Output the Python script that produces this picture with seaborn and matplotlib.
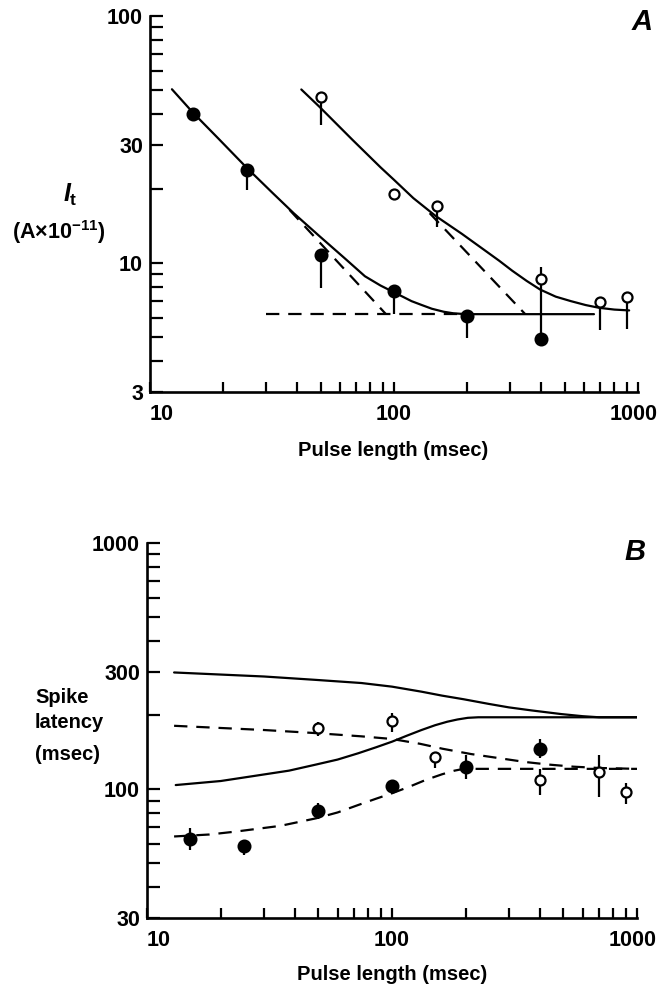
import matplotlib
matplotlib.use("Agg")
import matplotlib.pyplot as plt
from matplotlib.ticker import NullFormatter
from matplotlib.transforms import ScaledTranslation
import seaborn as sns

# ---- panel A: threshold current I_t vs pulse length ----
a_filled_x = [15, 25, 50, 100, 200, 400]
a_filled_y = [40, 23.8, 10.8, 7.7, 6.1, 4.93]
a_filled_lo = [40, 19.8, 7.9, 6.2, 4.97, 4.93]
a_filled_hi = [40, 23.8, 10.8, 7.7, 6.1, 6.4]

a_open_x = [50, 100, 150, 400, 700, 900]
a_open_y = [47, 19, 17.0, 8.6, 6.95, 7.3]
a_open_lo = [36.2, 19, 14.0, 6.4, 5.36, 5.4]
a_open_hi = [47, 19, 17.0, 9.6, 6.95, 7.3]

# fitted curves
a_fit1_x = [12.3, 15.0, 19.0, 25.0, 31.8, 38.8, 49.2, 62.4, 76.0, 88, 100, 110, 118,
            130, 143, 160, 175, 197, 660]
a_fit1_y = [50.5, 40.6, 32.0, 24.2, 19.2, 15.9, 12.9, 10.5, 8.83, 8.1, 7.6, 7.25, 7.0,
            6.75, 6.52, 6.34, 6.25, 6.2, 6.2]
a_fit2_x = [41.7, 49.7, 67.6, 88, 100, 120, 148, 190, 231, 270, 305, 350, 397, 460,
            531, 610, 692, 800, 920]
a_fit2_y = [50.4, 42.7, 31.5, 24.4, 21.7, 18.3, 15.5, 13.1, 11.4, 10.2, 9.3, 8.45, 7.8,
            7.3, 7.0, 6.75, 6.58, 6.47, 6.42]

# asymptotes (dashed)
a_asym1_x = [37.3, 92.7]
a_asym1_y = [16.4, 6.2]
a_asym2_x = [140, 345]
a_asym2_y = [15.9, 6.2]
a_rheo_x = [30, 200]
a_rheo_y = [6.2, 6.2]

# ---- panel B: spike latency vs pulse length ----
b_filled_x = [15, 25, 50, 100, 200, 400]
b_filled_y = [62.7, 58.9, 81.8, 102.6, 123.6, 146]
b_filled_lo = [56.6, 54.1, 75.4, 96.3, 110, 134]
b_filled_hi = [69.4, 62.2, 88, 109, 138, 160]

b_open_x = [50, 100, 150, 400, 700, 900]
b_open_y = [178, 190, 135, 109, 118, 97.8]
b_open_lo = [164, 170, 122, 95, 93, 87]
b_open_hi = [188, 204, 142, 121, 138, 106]

b_solid_up_x = [12.9, 30, 49, 75, 100, 132, 160, 196, 249, 300, 371, 490, 600, 700, 1000]
b_solid_up_y = [298, 287, 278, 270, 261, 249, 240, 232, 222, 215, 209, 202, 198, 196, 196]
b_solid_lo_x = [13.1, 20, 27, 38, 49, 60, 72.8, 86, 100, 115, 132, 150, 168, 185, 204,
                225, 1000]
b_solid_lo_y = [104, 108, 113, 119, 126, 132, 140, 148, 156, 165, 174, 182, 188, 192, 195,
                196, 196]
b_dash_up_x = [12.9, 30, 49, 75, 100, 130, 161, 210, 270, 350, 434, 550, 700, 1000]
b_dash_up_y = [181, 174, 169, 164, 160, 153, 146, 139, 134, 129, 126, 123.5, 122, 121]
b_dash_lo_x = [12.9, 18, 23, 35, 49, 60, 72.8, 86, 100, 118, 137, 160, 180, 196, 1000]
b_dash_lo_y = [64.3, 65.5, 67.3, 71, 76.2, 80.5, 86.3, 91.5, 96.3, 102.5, 109, 115, 119,
               121, 121]

# ticks
x_major = [10, 100, 1000]
x_minor = [20, 30, 40, 50, 60, 70, 80, 90, 200, 300, 400, 500, 600, 700, 800, 900]
a_y_major = [3, 10, 30, 100]
a_y_minor = [4, 5, 6, 7, 8, 9, 20, 40, 50, 60, 70, 80, 90]
b_y_major = [30, 100, 300, 1000]
b_y_minor = [40, 50, 60, 70, 80, 90, 200, 400, 500, 600, 700, 800, 900]

sns.set_theme(style="ticks")
plt.rcParams['font.family'] = ['Liberation Sans', 'DejaVu Sans']
plt.rcParams['font.weight'] = 'bold'
plt.rcParams['mathtext.fontset'] = 'custom'
plt.rcParams['mathtext.rm'] = 'Liberation Sans:bold'
plt.rcParams['mathtext.it'] = 'Liberation Sans:italic:bold'
plt.rcParams['mathtext.bf'] = 'Liberation Sans:bold'

W, H = 659, 989
fig = plt.figure(figsize=(W / 100, H / 100), dpi=100)

LW = 1.6
DASH = (0, (6, 4))


def px_axes(x0, x1, ytop, ybot):
    return fig.add_axes([x0 / W, 1 - ybot / H, (x1 - x0) / W, (ybot - ytop) / H])


def style_axes(ax, ymaj, ymin, ylim):
    ax.set_xscale('log')
    ax.set_yscale('log')
    ax.set_xlim(10, 1000)
    ax.set_ylim(*ylim)
    ax.set_xticks(x_major, labels=[str(v) for v in x_major])
    ax.set_xticks(x_minor, minor=True)
    ax.set_yticks(ymaj, labels=[str(v) for v in ymaj])
    ax.set_yticks(ymin, minor=True)
    ax.xaxis.set_minor_formatter(NullFormatter())
    ax.yaxis.set_minor_formatter(NullFormatter())
    ax.tick_params(axis='both', which='both', direction='in', width=LW, color='black',
                   labelsize=15.5, labelcolor='black')
    ax.tick_params(axis='y', which='both', length=9, pad=5)
    ax.tick_params(axis='x', which='both', length=7.5, pad=8.5)
    labs = ax.get_xticklabels()
    labs[0].set_ha('left')
    labs[-1].set_transform(labs[-1].get_transform()
                           + ScaledTranslation(-4 / 100, 0, fig.dpi_scale_trans))
    for s in ['left', 'bottom']:
        ax.spines[s].set_linewidth(LW + 0.3)
        ax.spines[s].set_color('black')
    sns.despine(ax=ax)
    ax.set_xlabel('')
    ax.set_ylabel('')
    ax.set_facecolor('white')


def line(ax, x, y, dashed=False):
    sns.lineplot(x=x, y=y, ax=ax, color='black', lw=LW, sort=False, estimator=None,
                 linestyle=DASH if dashed else '-', zorder=1)


def points(ax, x, y, lo, hi, filled):
    ax.vlines(x, lo, hi, color='black', lw=LW, zorder=2)
    sns.scatterplot(x=x, y=y, ax=ax, marker='o', s=72 if filled else 52,
                    color='black' if filled else 'white', edgecolor='black',
                    linewidth=1.6, zorder=3, legend=False)


# panel A
axA = px_axes(150, 638, 16, 392)
axA.set_xscale('log')
axA.set_yscale('log')
line(axA, a_fit1_x, a_fit1_y)
line(axA, a_fit2_x, a_fit2_y)
line(axA, a_asym1_x, a_asym1_y, dashed=True)
line(axA, a_asym2_x, a_asym2_y, dashed=True)
line(axA, a_rheo_x, a_rheo_y, dashed=True)
points(axA, a_filled_x, a_filled_y, a_filled_lo, a_filled_hi, True)
points(axA, a_open_x, a_open_y, a_open_lo, a_open_hi, False)
style_axes(axA, a_y_major, a_y_minor, (3, 100))

# panel B
axB = px_axes(147, 637, 543, 918)
axB.set_xscale('log')
axB.set_yscale('log')
line(axB, b_solid_up_x, b_solid_up_y)
line(axB, b_solid_lo_x, b_solid_lo_y)
line(axB, b_dash_up_x, b_dash_up_y, dashed=True)
line(axB, b_dash_lo_x, b_dash_lo_y, dashed=True)
points(axB, b_filled_x, b_filled_y, b_filled_lo, b_filled_hi, True)
points(axB, b_open_x, b_open_y, b_open_lo, b_open_hi, False)
style_axes(axB, b_y_major, b_y_minor, (30, 1000))


# labels placed in figure pixels
def ftext(x, y, s, **kw):
    fig.text(x / W, 1 - y / H, s, color='black', **kw)


ftext(642, 22, 'A', fontsize=21, fontstyle='italic', fontweight='bold', ha='center', va='center')
ftext(635, 552, 'B', fontsize=21, fontstyle='italic', fontweight='bold', ha='center', va='center')
ftext(393, 451, 'Pulse length (msec)', fontsize=14.5, ha='center', va='center')
ftext(392, 975, 'Pulse length (msec)', fontsize=14.5, ha='center', va='center')
ftext(63, 202, r'$I_{\mathrm{t}}$', fontsize=18, ha='left', va='baseline')
ftext(59, 239, r'(A$\times$10$^{-11}$)', fontsize=15.5, ha='center', va='baseline')
ftext(35, 703, 'Spike', fontsize=14.5, ha='left', va='baseline')
ftext(35, 728, 'latency', fontsize=14.5, ha='left', va='baseline')
ftext(35, 760, '(msec)', fontsize=14.5, ha='left', va='baseline')

fig.savefig('out.png', dpi=100, facecolor='white')
